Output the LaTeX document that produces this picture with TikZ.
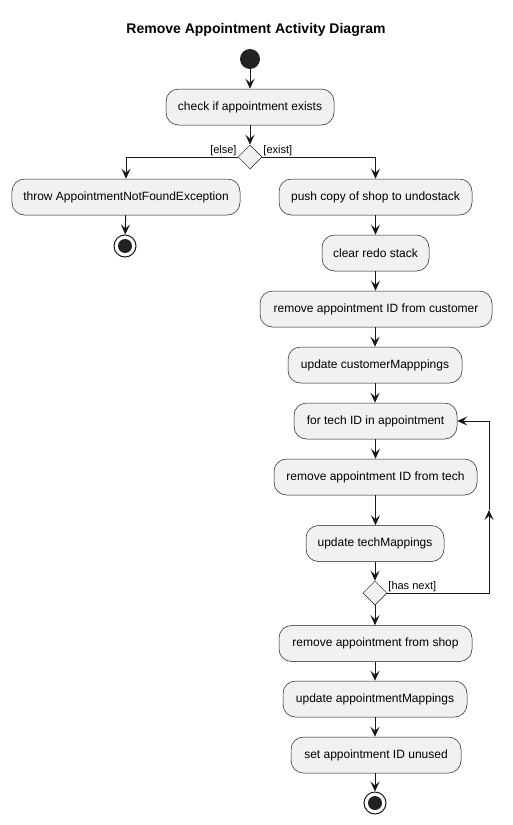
\documentclass[tikz,border=0pt]{standalone}
\usepackage{fontspec}
\setmainfont{Liberation Sans}
\usetikzlibrary{arrows.meta,shapes.geometric}
\definecolor{boxfill}{HTML}{F1F1F1}
\definecolor{boxline}{HTML}{181818}
\definecolor{dot}{HTML}{222222}
\tikzset{
  act/.style={draw=boxline, line width=0.5bp, fill=boxfill, rounded corners=12.5bp,
    minimum height=36bp, inner xsep=0pt, inner ysep=0pt, font=\fontsize{12bp}{14bp}\selectfont, text=black},
  choice/.style={draw=boxline, line width=0.5bp, fill=boxfill, diamond, minimum width=24bp, minimum height=24bp, inner sep=0pt},
  flow/.style={draw=boxline, line width=1bp, -{Stealth[length=10bp,width=9bp,inset=4bp]}},
  plain/.style={draw=boxline, line width=1bp},
  guard/.style={font=\fontsize{11bp}{12bp}\selectfont, inner sep=1bp, text=black},
  startdot/.style={circle, fill=dot, minimum size=20bp, inner sep=0pt},
  enddot/.style={circle, draw=boxline, line width=1bp, fill=white, minimum size=22bp, inner sep=0pt,
    path picture={\fill[dot] (path picture bounding box.center) circle (7bp);}},
}
\begin{document}
\begin{tikzpicture}[x=1bp,y=-1bp]
\useasboundingbox (0,0) rectangle (513,825);
\node[font=\fontsize{14bp}{16bp}\selectfont\bfseries] (title) at (256,30) {Remove Appointment Activity Diagram};
\node[startdot] (start) at (250,59) {};
\node[act, minimum width=168bp] (check) at (250,107) {check if appointment exists};
\node[choice] (d1) at (250,157) {};
\node[act, minimum width=228bp] (throw) at (126,197) {throw AppointmentNotFoundException};
\node[enddot] (end1) at (125,246) {};
\node[act, minimum width=193bp] (push) at (375.5,197) {push copy of shop to undostack};
\node[act, minimum width=107bp] (redo) at (375.5,253) {clear redo stack};
\node[act, minimum width=232bp] (remcust) at (376,309) {remove appointment ID from customer};
\node[act, minimum width=174bp] (updcust) at (375,365) {update customerMapppings};
\node[act, minimum width=163bp] (fortech) at (375.5,421) {for tech ID in appointment};
\node[act, minimum width=203bp] (remtech) at (375.5,477) {remove appointment ID from tech};
\node[act, minimum width=138bp] (updtech) at (375,543.5) {update techMappings};
\node[choice] (d2) at (375,593) {};
\node[act, minimum width=193bp] (remshop) at (375.5,643.5) {remove appointment from shop};
\node[act, minimum width=184bp] (updappt) at (375,699) {update appointmentMappings};
\node[act, minimum width=170bp] (setid) at (376,755) {set appointment ID unused};
\node[enddot] (end2) at (375,803) {};
% guards
\node[guard, anchor=south east] (lelse) at (d1.west) {[else]};
\node[guard, anchor=south west] (lexist) at (d1.east) {[exist]};
\node[guard, anchor=south west] (lnext) at (d2.east) {[has next]};
% flows
\draw[flow] (start) -- (check);
\draw[flow] (check) -- (d1);
\draw[flow] (d1.west) -| (throw.north);
\draw[flow] (d1.east) -| (push.north);
\draw[flow] (throw) -- (end1);
\draw[flow] (push.south -| redo.north) -- (redo);
\draw[flow] (redo.south) -- (remcust.north -| redo.south);
\draw[flow] (remcust.south -| updcust.north) -- (updcust);
\draw[flow] (updcust) -- (fortech.north -| updcust.south);
\draw[flow] (fortech) -- (remtech);
\draw[flow] (remtech) -- (updtech.north -| remtech.south);
\draw[flow] (updtech.south -| d2.north) -- (d2);
\draw[flow] (d2) -- (remshop.north -| d2.south);
\draw[flow] (remshop.south -| updappt.north) -- (updappt);
\draw[flow] (updappt.south) -- (setid.north -| updappt.south);
\draw[flow] (setid.south -| end2.north) -- (end2);
% loop back
\coordinate (lpa) at (489,593);
\coordinate (lpb) at (489,510);
\coordinate (lpc) at (489,421);
\draw[flow] (d2.east) -- (lpa) -- (lpb);
\draw[flow] (lpb) -- (lpc) -- (fortech.east);
\end{tikzpicture}
\end{document}
